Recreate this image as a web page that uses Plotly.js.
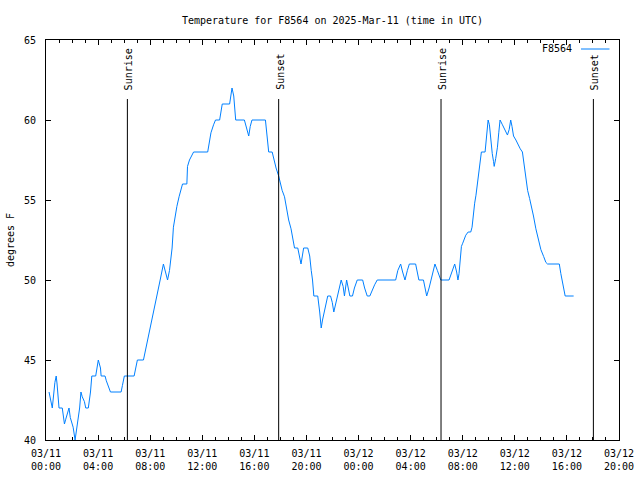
<!DOCTYPE html>
<html>
<head>
<meta charset="utf-8">
<script src="https://cdn.plot.ly/plotly-3.0.1.min.js"></script>
<style>html,body{margin:0;padding:0;background:#fff;}#chart{width:640px;height:480px;}</style>
</head>
<body>
<div id="chart"></div>
<script>
// Hours since 2025-03-11 00:00 UTC
const hoursUTC = [
  0.23, 0.48, 0.69, 0.79, 0.85, 0.95, 1.0, 1.25, 1.41, 1.51, 1.67, 1.77, 1.87, 2.08, 2.23, 2.38,
  2.59, 2.69, 2.79, 2.95, 3.05, 3.25, 3.41, 3.51, 3.82, 3.92, 4.02, 4.18, 4.23, 4.54, 4.64, 4.95,
  5.77, 5.87, 6.02, 6.77, 7.02, 7.48, 7.75, 8.0, 8.25, 8.52, 8.77, 9.02, 9.18, 9.33, 9.49, 9.59,
  9.69, 9.79, 9.92, 10.05, 10.21, 10.36, 10.48, 10.82, 10.87, 11.02, 11.18, 11.33, 12.41, 12.51,
  12.67, 12.87, 13.02, 13.33, 13.44, 13.54, 14.1, 14.21, 14.28, 14.41, 14.56, 15.23, 15.38, 15.56,
  15.69, 15.82, 16.85, 16.98, 17.1, 17.36, 17.49, 17.67, 17.87, 18.13, 18.31, 18.46, 18.64, 18.82,
  18.98, 19.08, 19.33, 19.49, 19.59, 19.69, 19.79, 20.1, 20.25, 20.36, 20.46, 20.56, 20.87, 21.02,
  21.08, 21.13, 21.23, 21.33, 21.46, 21.64, 21.85, 21.98, 22.1, 22.25, 22.48, 22.67, 22.82, 22.92,
  23.08, 23.18, 23.33, 23.54, 23.69, 23.9, 24.31, 24.46, 24.67, 24.87, 25.05, 25.23, 25.44, 26.85,
  27.02, 27.23, 27.38, 27.56, 27.75, 27.9, 28.38, 28.51, 28.64, 28.98, 29.08, 29.23, 29.41, 29.59,
  29.75, 29.87, 30.05, 30.18, 30.31, 30.95, 31.08, 31.23, 31.38, 31.54, 31.64, 31.72, 31.79, 31.9,
  32.0, 32.1, 32.23, 32.41, 32.62, 32.72, 32.82, 32.92, 33.02, 33.13, 33.23, 33.33, 33.44, 33.72,
  33.82, 33.95, 34.05, 34.15, 34.26, 34.36, 34.41, 34.54, 34.67, 34.77, 34.87, 35.05, 35.23, 35.44,
  35.56, 35.69, 35.79, 35.9, 36.08, 36.26, 36.41, 36.59, 36.72, 36.85, 36.98, 37.13, 37.28, 37.44,
  37.62, 37.75, 37.87, 38.0, 38.21, 38.38, 38.51, 39.41, 39.54, 39.67, 39.79, 39.87, 40.51
];
// Temperature in degrees F
const tempsF = [
  43, 42, 43.6, 44, 43.5, 42.6, 42, 42, 41, 41.3, 41.7, 42, 41.4, 40.8, 40, 40.8,
  42, 43, 42.7, 42.4, 42, 42, 43, 44, 44, 44.5, 45, 44.5, 44, 44, 43.7, 43,
  43, 43.4, 44, 44, 45, 45, 46, 47, 48, 49, 50, 51, 50.5, 50, 50.6, 51.25,
  52, 53.3, 54, 54.6, 55.2, 55.7, 56, 56, 57.1, 57.5, 57.8, 58, 58, 58.5,
  59.2, 59.7, 60, 60, 60.6, 61, 61, 61.7, 62, 61.5, 60, 60, 59.6, 59,
  59.6, 60, 60, 59, 58, 58, 57.6, 57, 56.5, 55.6, 55.2, 54.4, 53.75, 53.2,
  52.5, 52, 52, 51.5, 51, 51.5, 52, 52, 51.5, 50.6, 50, 49, 49, 48,
  47.5, 47, 47.5, 47.9, 48.3, 49, 49, 48.6, 48, 48.5, 49.4, 50, 49.6, 49,
  50, 49.6, 49, 49, 49.5, 50, 50, 49.5, 49, 49, 49.4, 49.7, 50, 50,
  50.6, 51, 50.5, 50, 50.6, 51, 51, 50.5, 50, 50, 49.6, 49, 49.5, 50,
  50.6, 51, 50.6, 50.25, 50, 50, 50.3, 50.6, 51, 50.5, 50, 50.4, 51, 52.1,
  52.3, 52.5, 52.8, 53, 53, 53.3, 54.3, 54.8, 55.3, 56.1, 56.8, 57.4, 58, 58,
  59, 60, 59.7, 58.75, 57.9, 57.4, 57.1, 57.6, 58.3, 59.2, 60, 59.7, 59.4, 59.06,
  59.4, 60, 59.6, 59, 58.75, 58.4, 58.2, 58, 57.1, 56.25, 55.6, 55.1, 54.6, 54,
  53.2, 52.7, 52.3, 51.9, 51.46, 51.1, 51, 51, 50.4, 49.8, 49.3, 49, 49
];
const eventTimes = ['2025-03-11 06:15', '2025-03-11 17:52', '2025-03-12 06:20', '2025-03-12 18:02'];
const eventLabels = ['Sunrise', 'Sunset', 'Sunrise', 'Sunset'];
const seriesName = 'F8564';
const xTickLabelFormat = '%m/%d<br>%H:%M';
const yTickValues = [40, 45, 50, 55, 60, 65];

function pad(n) { return String(n).padStart(2, '0'); }
function toTime(h) {
  const d = new Date(Date.UTC(2025, 2, 11) + Math.round(h * 60) * 60000);
  return d.getUTCFullYear() + '-' + pad(d.getUTCMonth() + 1) + '-' + pad(d.getUTCDate()) + ' ' +
         pad(d.getUTCHours()) + ':' + pad(d.getUTCMinutes());
}

const FONT = 'DejaVu Sans Mono, monospace';
const BLUE = 'rgb(0,128,255)';

const trace = {
  x: hoursUTC.map(toTime),
  y: tempsF,
  type: 'scatter',
  mode: 'lines',
  name: seriesName,
  line: { color: BLUE, width: 1 },
  hoverinfo: 'none',
  showlegend: false
};

const shapes = eventTimes.map(t => ({
  type: 'line', xref: 'x', yref: 'paper', x0: t, x1: t, y0: 0, y1: 0.8525,
  line: { color: 'black', width: 1 }
}));
shapes.push({
  type: 'line', xref: 'paper', yref: 'paper', x0: 0.9337, x1: 0.9834, y0: 0.9775, y1: 0.9775,
  line: { color: BLUE, width: 1 }
});

const annotations = eventTimes.map((t, i) => ({
  x: t, xref: 'x', y: 0.87, yref: 'paper', text: eventLabels[i], textangle: -90,
  showarrow: false, xanchor: 'center', yanchor: 'bottom', xshift: 1,
  font: { family: FONT, size: 10, color: 'black' }
}));
annotations.push({
  x: 0.9215, xref: 'paper', y: 0.9775, yref: 'paper', text: seriesName, showarrow: false,
  xanchor: 'right', yanchor: 'middle', font: { family: FONT, size: 10, color: 'black' }
});

const axisCommon = {
  showline: true, linecolor: 'black', linewidth: 1, mirror: 'ticks',
  ticks: 'inside', ticklen: 5, tickcolor: 'black', tickwidth: 1,
  showgrid: false, zeroline: false,
  tickfont: { family: FONT, size: 10, color: 'black' }
};

const layout = {
  width: 640, height: 480,
  margin: { l: 46, r: 21, t: 40, b: 40 },
  paper_bgcolor: 'white', plot_bgcolor: 'white',
  font: { family: FONT, size: 10, color: 'black' },
  title: {
    text: 'Temperature for F8564 on 2025-Mar-11 (time in UTC)',
    font: { family: FONT, size: 10, color: 'black' },
    xref: 'paper', x: 0.5, xanchor: 'center',
    yref: 'container', y: 0.958, yanchor: 'middle'
  },
  xaxis: Object.assign({}, axisCommon, {
    type: 'date',
    range: ['2025-03-11 00:00', '2025-03-12 20:00'],
    tick0: '2025-03-11 00:00', dtick: 4 * 3600000,
    tickformat: xTickLabelFormat,
    ticklabelstandoff: 4,
    minor: { dtick: 3600000, ticks: 'inside', ticklen: 3, tickcolor: 'black', showgrid: false }
  }),
  yaxis: Object.assign({}, axisCommon, {
    range: [40, 65], tickvals: yTickValues,
    ticklabelstandoff: 7,
    title: { text: 'degrees F', font: { family: FONT, size: 10, color: 'black' }, standoff: 7 }
  }),
  shapes: shapes,
  annotations: annotations,
  showlegend: false
};

Plotly.newPlot('chart', [trace], layout, { staticPlot: true, displayModeBar: false });
</script>
</body>
</html>
